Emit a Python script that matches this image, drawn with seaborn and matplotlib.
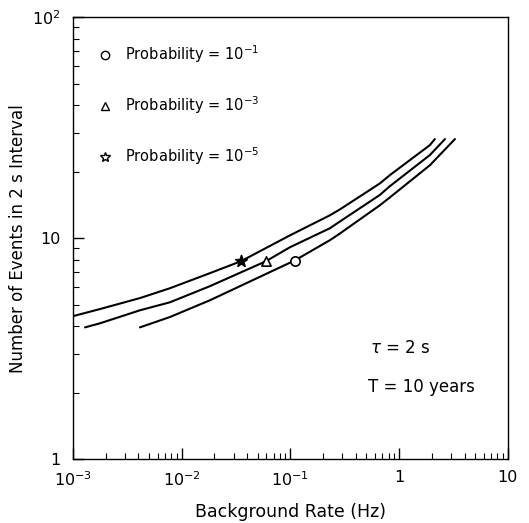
import numpy as np
import pandas as pd
import seaborn as sns
import matplotlib.pyplot as plt
from matplotlib.lines import Line2D

# curves (background rate in Hz, events in 2 s interval)
rate_p5 = [0.001, 0.00177, 0.00413, 0.0078, 0.0182, 0.0351, 0.0989, 0.231, 0.285, 0.665, 0.822, 1.92, 2.13]
events_p5 = [4.44, 4.78, 5.36, 5.94, 6.95, 7.87, 10.3, 12.7, 13.5, 17.7, 19.3, 26.4, 28.1]

rate_p3 = [0.00129, 0.00177, 0.00413, 0.0078, 0.0182, 0.0596, 0.0989, 0.231, 0.285, 0.665, 0.822, 1.92, 2.64]
events_p3 = [3.95, 4.12, 4.72, 5.13, 6.07, 7.87, 9.1, 11.1, 11.9, 15.7, 17.2, 23.8, 28.1]

rate_p1 = [0.00413, 0.0078, 0.0182, 0.110, 0.231, 0.285, 0.665, 0.822, 1.92, 3.26]
events_p1 = [3.95, 4.40, 5.24, 7.94, 9.8, 10.5, 14.1, 15.3, 21.4, 28.1]

# marked points on each curve
mark_rate = [0.110, 0.0596, 0.0351]
mark_events = [7.9, 7.9, 7.9]
mark_style = ['o', '^', '*']
labels = ['Probability = $10^{-1}$', 'Probability = $10^{-3}$', 'Probability = $10^{-5}$']

sns.set_style("ticks")
plt.rcParams['font.family'] = ['DejaVu Sans']
plt.rcParams['mathtext.fontset'] = 'dejavusans'
plt.rcParams['text.color'] = 'black'
plt.rcParams['axes.labelcolor'] = 'black'
plt.rcParams['xtick.color'] = 'black'
plt.rcParams['ytick.color'] = 'black'

fig = plt.figure(figsize=(5.29, 5.23), dpi=100)
ax = fig.add_axes([0.138, 0.122, 0.822, 0.845])

for r, e in [(rate_p5, events_p5), (rate_p3, events_p3), (rate_p1, events_p1)]:
    df = pd.DataFrame({'rate': r, 'events': e})
    sns.lineplot(data=df, x='rate', y='events', color='black', lw=1.5, ax=ax)

for r, e, m in zip(mark_rate, mark_events, mark_style):
    ax.scatter([r], [e], marker=m, s=75 if m == '*' else 45,
               facecolors='black' if m == '*' else 'white',
               edgecolors='black', linewidths=1.2, zorder=5)

ax.set_xscale('log')
ax.set_yscale('log')
ax.set_xlim(1e-3, 10)
ax.set_ylim(1, 100)

ax.set_xticks([1e-3, 1e-2, 1e-1, 1, 10])
ax.set_xticklabels(['$10^{-3}$', '$10^{-2}$', '$10^{-1}$', '1', '10'])
ax.set_yticks([1, 10, 100])
ax.set_yticklabels(['1', '10', '$10^{2}$'])

ax.tick_params(which='major', direction='in', length=8, width=1, labelsize=11.5)
ax.tick_params(axis='x', which='major', pad=8)
ax.tick_params(axis='y', which='major', pad=9)
ax.tick_params(which='minor', direction='in', length=4, width=0.8)
for s in ax.spines.values():
    s.set_linewidth(1.0)
    s.set_color('black')

ax.set_xlabel('Background Rate (Hz)', fontsize=12.5, labelpad=10)
ax.set_ylabel('Number of Events in 2 s Interval', fontsize=12)
ax.yaxis.set_label_coords(-0.105, 0.5)

handles = [Line2D([], [], linestyle='none', marker=m, markersize=7 if m == '*' else 6,
                  markerfacecolor='white', markeredgecolor='black', markeredgewidth=1)
           for m in mark_style]
ax.legend(handles, labels, loc='upper left', frameon=False, fontsize=10.5,
          labelspacing=2.0, handletextpad=0.4, borderaxespad=1.2,
          bbox_to_anchor=(-0.014, 0.993))

ax.text(0.683, 0.251, r'$\tau$ = 2 s', transform=ax.transAxes, fontsize=12, va='center')
ax.text(0.678, 0.163, 'T = 10 years', transform=ax.transAxes, fontsize=12, va='center')

fig.savefig('out.png', dpi=100)
